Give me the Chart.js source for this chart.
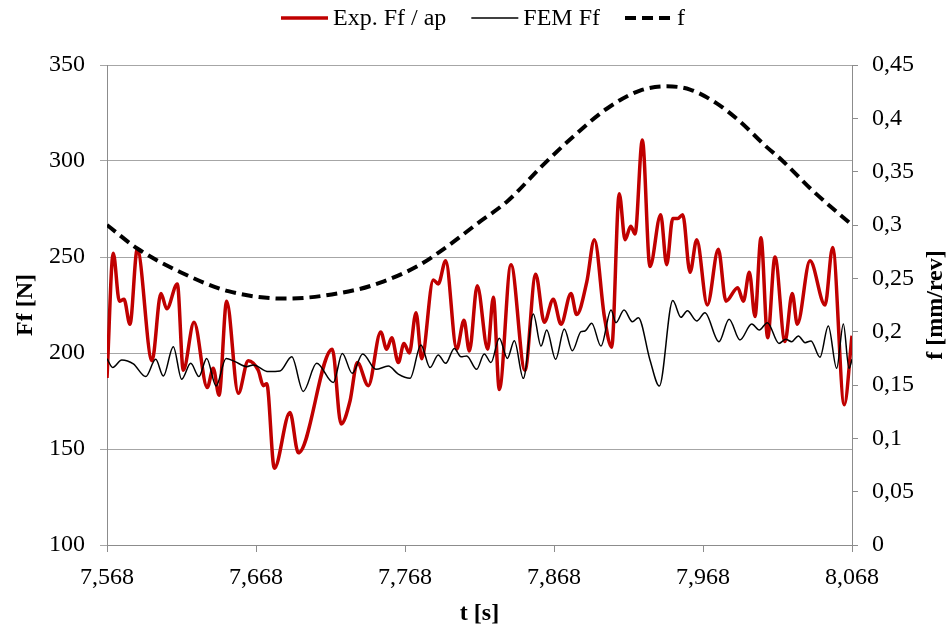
<!DOCTYPE html>
<html>
<head>
<meta charset="utf-8">
<style>
  html, body { margin: 0; padding: 0; background: #fff; }
  #wrap { width: 949px; height: 630px; }
</style>
</head>
<body>
<div id="wrap"><canvas id="chart" width="949" height="630"></canvas></div>
<script src="https://cdn.jsdelivr.net/npm/chart.js@4.4.1/dist/chart.umd.min.js"></script>
<script>
const xTicks = [7.568, 7.668, 7.768, 7.868, 7.968, 8.068];

// Exp. Ff / ap (left axis, N) - peaks and troughs
const expT = [7.568, 7.5722, 7.5763, 7.5794, 7.5834, 7.5883, 7.5982, 7.6042, 7.6081, 7.6152,
  7.6192, 7.6264, 7.6353, 7.6393, 7.6432, 7.6483, 7.6561, 7.6628, 7.6695, 7.6729,
  7.6752, 7.6803, 7.6908, 7.6964, 7.7192, 7.7251, 7.7311, 7.7360, 7.7434, 7.7517,
  7.7557, 7.7591, 7.7635, 7.7673, 7.7709, 7.7754, 7.7792, 7.7870, 7.7903, 7.7953,
  7.8027, 7.8076, 7.8112, 7.8165, 7.8235, 7.8273, 7.8313, 7.8391, 7.8485, 7.8557,
  7.8615, 7.8675, 7.8727, 7.8794, 7.8832, 7.8900, 7.8951, 7.9018, 7.9067, 7.9118,
  7.9157, 7.9195, 7.9224, 7.9273, 7.9324, 7.9396, 7.9436, 7.9477, 7.9510, 7.9544,
  7.9593, 7.9638, 7.9709, 7.9783, 7.9834, 7.9913, 7.9951, 7.9991, 8.0029, 8.0069,
  8.0114, 8.0163, 8.0230, 8.0279, 8.0313, 8.0398, 8.0499, 8.0550, 8.0628, 8.068];
const expFf = [187, 252, 227, 228, 215, 254, 196, 231, 223, 236,
  191, 216, 182, 192, 178, 227, 179, 196, 191, 183,
  184, 140, 169, 148, 202, 163, 175, 195, 183, 211,
  202, 208, 195, 205, 200, 221, 197, 238, 236, 248,
  202, 217, 201, 235, 202, 229, 181, 246, 191, 241,
  216, 228, 215, 231, 220, 237, 259, 219, 203, 283,
  259, 266, 262, 311, 245, 272, 246, 270, 270, 272,
  242, 259, 225, 254, 227, 234, 227, 242, 219, 260,
  208, 250, 206, 231, 215, 248, 225, 255, 173, 209];

// FEM Ff (left axis, N)
const femT = [7.568, 7.5718, 7.5779, 7.5857, 7.5940, 7.6007, 7.6058, 7.6125, 7.6181, 7.6242,
  7.6297, 7.6349, 7.6412, 7.6479, 7.6539, 7.6618, 7.6662, 7.6763, 7.6841, 7.6920,
  7.6997, 7.7087, 7.7199, 7.7259, 7.7326, 7.7396, 7.7485, 7.7568, 7.7635, 7.7714,
  7.7787, 7.7848, 7.7903, 7.7953, 7.8011, 7.8056, 7.8094, 7.8161, 7.8212, 7.8257,
  7.8313, 7.8367, 7.8414, 7.8474, 7.8541, 7.8593, 7.8631, 7.8691, 7.8749, 7.8803,
  7.8861, 7.8888, 7.8933, 7.8995, 7.9063, 7.9096, 7.9150, 7.9206, 7.9246, 7.9324,
  7.9387, 7.9477, 7.9532, 7.9575, 7.9638, 7.9693, 7.9787, 7.9855, 7.9928, 8.0007,
  8.0058, 8.0112, 8.0190, 8.0235, 8.0275, 8.0320, 8.0365, 8.0405, 8.0465, 8.0521,
  8.0577, 8.0622, 8.0660, 8.068];
const femFf = [197, 192.5, 196.4, 194.3, 187.7, 196.7, 188, 203.3, 186.3, 194.6,
  187.7, 197.2, 182.8, 197.2, 195.5, 192.9, 193.8, 190.3, 190.6, 198,
  180, 194.6, 184.6, 199.8, 189.4, 199.5, 191.5, 193.2, 189, 186.8,
  204.2, 192.4, 199, 194.6, 202.4, 198, 198.5, 191.5, 199.5, 195,
  207.7, 197.2, 206.4, 186.8, 220.3, 203.6, 212, 196.7, 212.5, 201.2,
  211.1, 211.5, 215.5, 203.6, 222.4, 215.8, 222.4, 216.3, 218.4, 196.4,
  182.8, 227.3, 218.6, 222, 216.7, 221, 205.9, 217.6, 206.8, 215.1,
  212, 215.8, 205, 207.1, 205.9, 208.9, 205.4, 206.3, 197.8, 214.1,
  192, 215.1, 192, 196.7];

// f (right axis, mm/rev)
const feedT = [7.568, 7.5883, 7.617, 7.6494, 7.6875, 7.7344, 7.7534, 7.7759, 7.7915, 7.8172,
  7.8373, 7.8597, 7.8810, 7.9034, 7.9257, 7.9436, 7.9593, 7.9772, 7.9928, 8.0108,
  8.0208, 8.0410, 8.068];
const feedF = [0.300, 0.278, 0.256, 0.238, 0.231, 0.239, 0.247, 0.261, 0.275, 0.302,
  0.323, 0.355, 0.383, 0.409, 0.426, 0.430, 0.427, 0.414, 0.397, 0.373,
  0.361, 0.333, 0.300];

const FONT = '"Liberation Serif", "Times New Roman", serif';
const axisGray = '#8c8c8c';
const gridGray = '#a6a6a6';

const toPts = (xs, ys) => xs.map((x, i) => ({ x, y: ys[i] }));
const comma = v => String(+(+v).toFixed(3)).replace('.', ',');
const tickFont = { family: FONT, size: 24 };
const titleFont = { family: FONT, size: 24, weight: 'bold' };

// right axis title reads bottom-to-top, and the legend uses long line samples
const extras = {
  id: 'extras',
  afterDraw(chart) {
    const { ctx, chartArea } = chart;
    ctx.save();
    ctx.fillStyle = '#000';
    ctx.font = `bold 24px ${FONT}`;
    ctx.textAlign = 'center';
    ctx.textBaseline = 'middle';
    ctx.translate(936, (chartArea.top + chartArea.bottom) / 2);
    ctx.rotate(-Math.PI / 2);
    ctx.fillText('f [mm/rev]', 0, 0);
    ctx.restore();

    ctx.save();
    ctx.font = `24px ${FONT}`;
    ctx.textBaseline = 'middle';
    const sample = 47, gap = 5, spacing = 25, y = 18;
    const items = chart.data.datasets;
    const widths = items.map(d => sample + gap + ctx.measureText(d.label).width);
    let x = 483 - (widths.reduce((a, b) => a + b, 0) + spacing * (items.length - 1)) / 2;
    items.forEach((d, i) => {
      ctx.beginPath();
      ctx.strokeStyle = d.borderColor;
      ctx.lineWidth = d.borderWidth;
      ctx.setLineDash(d.borderDash || []);
      ctx.moveTo(x, y);
      ctx.lineTo(x + sample, y);
      ctx.stroke();
      ctx.fillStyle = '#000';
      ctx.fillText(d.label, x + sample + gap, y + 1);
      x += widths[i] + spacing;
    });
    ctx.restore();
  }
};

const line = { pointRadius: 0, fill: false, cubicInterpolationMode: 'monotone' };

new Chart(document.getElementById('chart'), {
  type: 'line',
  data: {
    datasets: [
      { ...line, label: 'Exp. Ff / ap', data: toPts(expT, expFf), yAxisID: 'y', borderColor: '#c00000', borderWidth: 3.5, order: 3 },
      { ...line, label: 'FEM Ff', data: toPts(femT, femFf), yAxisID: 'y', borderColor: '#000000', borderWidth: 1.5, order: 2 },
      { ...line, label: 'f', data: toPts(feedT, feedF), yAxisID: 'y1', borderColor: '#000000', borderWidth: 4, borderDash: [11, 6], order: 1 }
    ]
  },
  options: {
    responsive: false,
    animation: false,
    devicePixelRatio: 1,
    layout: { padding: { top: 65, left: 0, right: 0, bottom: 0 } },
    plugins: { legend: { display: false }, tooltip: { enabled: false } },
    scales: {
      x: {
        type: 'linear', min: 7.568, max: 8.068,
        afterBuildTicks: s => { s.ticks = xTicks.map(value => ({ value })); },
        afterFit: s => { s.height = 85; },
        grid: { drawOnChartArea: false, tickLength: 7, color: axisGray },
        border: { color: axisGray },
        ticks: { color: '#000', font: tickFont, padding: 11, maxRotation: 0, autoSkip: false, callback: v => comma(v) },
        title: { display: true, text: 't [s]', color: '#000', font: titleFont, padding: { top: 0, bottom: 2 } }
      },
      y: {
        position: 'left', min: 100, max: 350,
        afterFit: s => { s.width = 107; },
        grid: { color: gridGray, tickLength: 7 },
        border: { color: axisGray },
        ticks: { stepSize: 50, color: '#000', font: tickFont, padding: 15 },
        title: { display: true, text: 'Ff [N]', color: '#000', font: titleFont, padding: { top: 11, bottom: 0 } }
      },
      y1: {
        position: 'right', min: 0, max: 0.45,
        afterFit: s => { s.width = 97; },
        grid: { drawOnChartArea: false, tickLength: 6, color: axisGray },
        border: { color: axisGray },
        ticks: { stepSize: 0.05, color: '#000', font: tickFont, padding: 14, callback: v => comma(v) }
      }
    }
  },
  plugins: [extras]
});
</script>
</body>
</html>
